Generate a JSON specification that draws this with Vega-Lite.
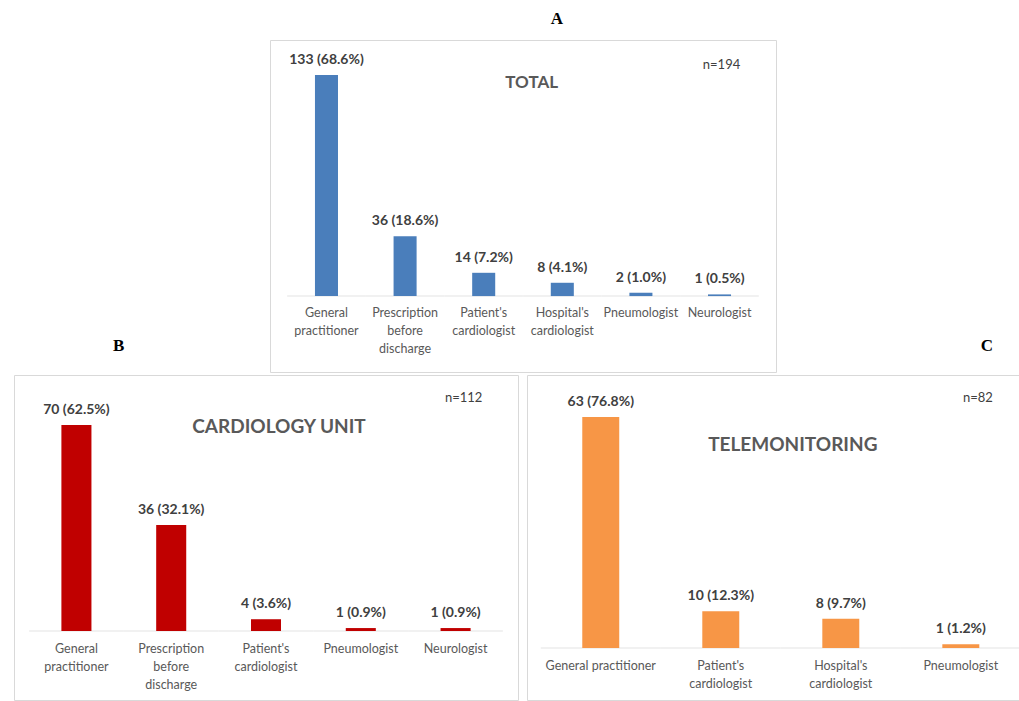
{
  "$schema": "https://vega.github.io/schema/vega-lite/v6.json",
  "background": "white",
  "padding": {"left": 13, "top": 9, "right": 0, "bottom": 0},
  "spacing": -37,
  "datasets": {
    "total": [
      {"cat": "General practitioner", "n": 133, "label": "133 (68.6%)"},
      {"cat": "Prescription before discharge", "n": 36, "label": "36 (18.6%)"},
      {"cat": "Patient's cardiologist", "n": 14, "label": "14 (7.2%)"},
      {"cat": "Hospital's cardiologist", "n": 8, "label": "8 (4.1%)"},
      {"cat": "Pneumologist", "n": 2, "label": "2 (1.0%)"},
      {"cat": "Neurologist", "n": 1, "label": "1 (0.5%)"}
    ],
    "cardio": [
      {"cat": "General practitioner", "n": 70, "label": "70 (62.5%)"},
      {"cat": "Prescription before discharge", "n": 36, "label": "36 (32.1%)"},
      {"cat": "Patient's cardiologist", "n": 4, "label": "4 (3.6%)"},
      {"cat": "Pneumologist", "n": 1, "label": "1 (0.9%)"},
      {"cat": "Neurologist", "n": 1, "label": "1 (0.9%)"}
    ],
    "tele": [
      {"cat": "General practitioner", "n": 63, "label": "63 (76.8%)"},
      {"cat": "Patient's cardiologist", "n": 10, "label": "10 (12.3%)"},
      {"cat": "Hospital's cardiologist", "n": 8, "label": "8 (9.7%)"},
      {"cat": "Pneumologist", "n": 1, "label": "1 (1.2%)"}
    ]
  },
  "vconcat": [
    {
      "spacing": 0,
      "hconcat": [
        {
          "width": 255,
          "height": 1,
          "data": {"values": []},
          "mark": {"type": "point", "opacity": 0},
          "encoding": {},
          "view": {"stroke": null}
        },
        {
          "title": {"text": "A", "anchor": "middle", "frame": "group", "dx": 34, "offset": 12, "font": "Liberation Serif", "fontSize": 17, "fontWeight": "bold", "color": "#000000"},
          "width": 506,
          "height": 332,
          "data": {"name": "total"},
          "encoding": {
            "x": {
              "field": "cat", "type": "nominal", "sort": null,
              "scale": {"paddingInner": 0.707, "paddingOuter": 0.572},
              "axis": {
                "title": null, "domain": false, "ticks": false, "tickSize": 0, "offset": -76, "labelAngle": 0,
                "labelPadding": 10, "labelLineHeight": 18, "labelFont": "Lato", "labelFontSize": 12.5, "labelColor": "#595959",
                "labelExpr": "datum.label == 'General practitioner' ? ['General', 'practitioner'] : datum.label == 'Prescription before discharge' ? ['Prescription', 'before', 'discharge'] : indexof(datum.label, ' cardiologist') > 0 ? [replace(datum.label, ' cardiologist', ''), 'cardiologist'] : datum.label"
              }
            }
          },
          "layer": [
            {
              "mark": {"type": "tick", "orient": "horizontal", "size": 78.6, "thickness": 1, "color": "#d9d9d9"},
              "encoding": {
                "y": {"datum": 0, "type": "quantitative", "scale": {"domain": [-45.7, 154.1], "nice": false, "zero": false}, "axis": null}
              }
            },
            {
              "mark": {"type": "bar", "color": "#4a7ebb"},
              "encoding": {"y": {"field": "n", "type": "quantitative", "axis": null}}
            },
            {
              "mark": {"type": "text", "baseline": "bottom", "dy": -8, "font": "Lato", "fontSize": 14, "fontWeight": "bold", "color": "#404040"},
              "encoding": {"y": {"field": "n", "type": "quantitative", "axis": null}, "text": {"field": "label"}}
            },
            {
              "data": {"values": [{"t": "TOTAL"}]},
              "mark": {"type": "text", "dx": 48, "font": "Lato", "fontSize": 17, "fontWeight": "bold", "color": "#595959"},
              "encoding": {"x": {"datum": "Patient's cardiologist", "type": "nominal"}, "y": {"datum": 128, "type": "quantitative", "axis": null}, "text": {"field": "t"}}
            },
            {
              "data": {"values": [{"t": "n=194"}]},
              "mark": {"type": "text", "dx": 2, "font": "Lato", "fontSize": 13, "color": "#404040"},
              "encoding": {"x": {"datum": "Neurologist", "type": "nominal"}, "y": {"datum": 139, "type": "quantitative", "axis": null}, "text": {"field": "t"}}
            }
          ]
        }
      ]
    },
    {
      "hconcat": [
        {
          "title": {"text": "B", "anchor": "start", "frame": "group", "dx": 99, "offset": 20, "font": "Liberation Serif", "fontSize": 17, "fontWeight": "bold", "color": "#000000"},
          "width": 504,
          "height": 325,
          "data": {"name": "cardio"},
          "encoding": {
            "x": {
              "field": "cat", "type": "nominal", "sort": null,
              "scale": {"paddingInner": 0.683, "paddingOuter": 0.5},
              "axis": {
                "title": null, "domain": false, "ticks": false, "tickSize": 0, "offset": -69, "labelAngle": 0,
                "labelPadding": 11, "labelLineHeight": 18, "labelFont": "Lato", "labelFontSize": 12.5, "labelColor": "#595959",
                "labelExpr": "datum.label == 'General practitioner' ? ['General', 'practitioner'] : datum.label == 'Prescription before discharge' ? ['Prescription', 'before', 'discharge'] : indexof(datum.label, ' cardiologist') > 0 ? [replace(datum.label, ' cardiologist', ''), 'cardiologist'] : datum.label"
              }
            }
          },
          "layer": [
            {
              "mark": {"type": "tick", "orient": "horizontal", "size": 94.7, "thickness": 1, "color": "#d9d9d9"},
              "encoding": {"y": {"datum": 0, "type": "quantitative", "scale": {"domain": [-23.45, 87], "nice": false, "zero": false}, "axis": null}}
            },
            {
              "mark": {"type": "bar", "color": "#c00000"},
              "encoding": {"y": {"field": "n", "type": "quantitative", "axis": null}}
            },
            {
              "mark": {"type": "text", "baseline": "bottom", "dy": -8, "font": "Lato", "fontSize": 14, "fontWeight": "bold", "color": "#404040"},
              "encoding": {"y": {"field": "n", "type": "quantitative", "axis": null}, "text": {"field": "label"}}
            },
            {
              "data": {"values": [{"t": "CARDIOLOGY UNIT"}]},
              "mark": {"type": "text", "dx": 13, "font": "Lato", "fontSize": 19, "fontWeight": "bold", "color": "#595959"},
              "encoding": {"x": {"datum": "Patient's cardiologist", "type": "nominal"}, "y": {"datum": 69.3, "type": "quantitative", "axis": null}, "text": {"field": "t"}}
            },
            {
              "data": {"values": [{"t": "n=112"}]},
              "mark": {"type": "text", "dx": 8, "font": "Lato", "fontSize": 13, "color": "#404040"},
              "encoding": {"x": {"datum": "Neurologist", "type": "nominal"}, "y": {"datum": 79.2, "type": "quantitative", "axis": null}, "text": {"field": "t"}}
            }
          ]
        },
        {
          "title": {"text": "C", "anchor": "end", "frame": "group", "dx": -28, "offset": 20, "font": "Liberation Serif", "fontSize": 17, "fontWeight": "bold", "color": "#000000"},
          "width": 494,
          "height": 325,
          "data": {"name": "tele"},
          "encoding": {
            "x": {
              "field": "cat", "type": "nominal", "sort": null,
              "scale": {"paddingInner": 0.692, "paddingOuter": 0.404, "align": 0.57},
              "axis": {
                "title": null, "domain": false, "ticks": false, "tickSize": 0, "offset": -52, "labelAngle": 0,
                "labelPadding": 11, "labelLineHeight": 18, "labelFont": "Lato", "labelFontSize": 12.5, "labelColor": "#595959",
                "labelExpr": "indexof(datum.label, ' cardiologist') > 0 ? [replace(datum.label, ' cardiologist', ''), 'cardiologist'] : datum.label"
              }
            }
          },
          "layer": [
            {
              "mark": {"type": "tick", "orient": "horizontal", "size": 120, "thickness": 1, "color": "#d9d9d9"},
              "encoding": {"y": {"datum": 0, "type": "quantitative", "scale": {"domain": [-14.18, 74.45], "nice": false, "zero": false}, "axis": null}}
            },
            {
              "mark": {"type": "bar", "color": "#f79646"},
              "encoding": {"y": {"field": "n", "type": "quantitative", "axis": null}}
            },
            {
              "mark": {"type": "text", "baseline": "bottom", "dy": -8, "font": "Lato", "fontSize": 14, "fontWeight": "bold", "color": "#404040"},
              "encoding": {"y": {"field": "n", "type": "quantitative", "axis": null}, "text": {"field": "label"}}
            },
            {
              "data": {"values": [{"t": "TELEMONITORING"}]},
              "mark": {"type": "text", "dx": -48, "font": "Lato", "fontSize": 19, "fontWeight": "bold", "color": "#595959"},
              "encoding": {"x": {"datum": "Hospital's cardiologist", "type": "nominal"}, "y": {"datum": 55.4, "type": "quantitative", "axis": null}, "text": {"field": "t"}}
            },
            {
              "data": {"values": [{"t": "n=82"}]},
              "mark": {"type": "text", "dx": 17, "font": "Lato", "fontSize": 13, "color": "#404040"},
              "encoding": {"x": {"datum": "Pneumologist", "type": "nominal"}, "y": {"datum": 68.2, "type": "quantitative", "axis": null}, "text": {"field": "t"}}
            }
          ]
        }
      ],
      "spacing": 7
    }
  ],
  "config": {
    "view": {"stroke": "#d9d9d9", "strokeWidth": 1},
    "font": "Lato"
  }
}
